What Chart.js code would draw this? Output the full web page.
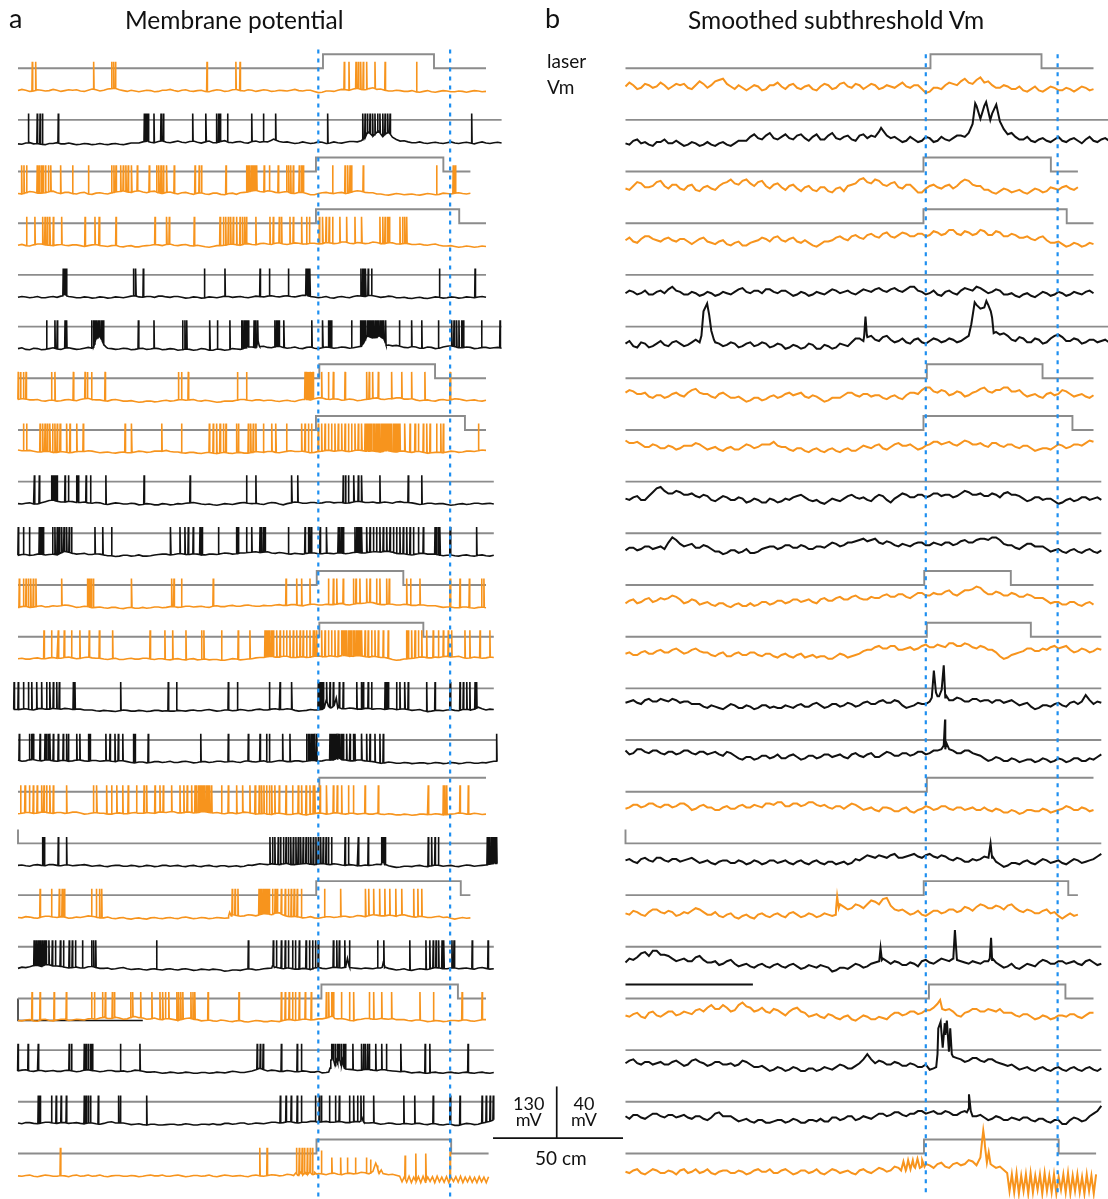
<!DOCTYPE html>
<html>
<head>
<meta charset="utf-8">
<script src="https://cdn.jsdelivr.net/npm/chart.js@4.4.1/dist/chart.umd.min.js"></script>
<style>
  html,body{margin:0;padding:0;background:#fff;}
  #wrap{position:relative;width:1108px;height:1199px;overflow:hidden;background:#fff;}
  canvas{position:absolute;left:0;top:0;}
  .t{position:absolute;font-family:Lato,"Open Sans",sans-serif;color:#111;line-height:1;white-space:nowrap;}
</style>
</head>
<body>
<div id="wrap">
<canvas id="c" width="1108" height="1199"></canvas>
<div class="t" style="left:9px;top:4px;font-size:27px">a</div>
<div class="t" style="left:125px;top:8px;font-size:24.5px">Membrane potential</div>
<div class="t" style="left:545px;top:4px;font-size:27px">b</div>
<div class="t" style="left:688px;top:8px;font-size:24.5px">Smoothed subthreshold Vm</div>
<div class="t" style="left:547px;top:51px;font-size:19px">laser</div>
<div class="t" style="left:547px;top:77px;font-size:19px">Vm</div>
<div class="t" style="left:513px;top:1095px;font-size:18px;line-height:16px;text-align:center">130<br>mV</div>
<div class="t" style="left:571px;top:1095px;font-size:18px;line-height:16px;text-align:center">40<br>mV</div>
<div class="t" style="left:535px;top:1148px;font-size:19px">50 cm</div>
</div>
<script>
// ---------------- DATA ----------------
// trace colour per recording row (top to bottom)
const traceColor = ['orange','black','orange','orange','black','black','orange','orange','black','black','orange',
                    'orange','black','black','orange','black','orange','black','orange','black','black','orange'];

// laser-on interval per row, in cm along the track (null = no laser; end null = stays on)
const laserOn = [[117.3,160.0],null,[114.6,163.6],[114.6,169.7],null,null,[115.9,160.4],[114.6,171.9],null,null,
                 [114.9,148.2],[115.9,155.9],null,null,[115.9,null],[0,0],[114.7,170.3],null,[116.7,169.2],null,null,[114.8,166.6]];

// laser zone markers (cm)
const laserZone = [115.5, 166.2];

// spike positions (cm) per row
const spikeTimes = [
 [5.5,6.8,29.1,36.0,36.8,37.5,72.7,83.8,85.4,125.5,127.3,130.0,130.9,131.8,132.8,134.1,137.3,141.2,153.3],
 [4.0,7.4,8.5,9.4,15.5,48.6,49.0,49.4,49.7,50.1,52.3,55.0,55.9,67.2,72.3,76.4,77.1,77.7,80.6,89.9,94.4,99.1,119.1,132.6,133.5,134.4,135.4,136.4,137.3,138.3,139.2,140.3,141.2,142.2,143.1,174.5],
 [1.4,2.3,3.3,7.4,8.2,9.0,9.7,10.6,11.7,12.6,16.4,21.0,27.1,36.0,36.9,37.7,39.5,40.5,41.5,42.4,43.7,45.9,50.5,53.3,54.2,55.0,55.9,57.2,60.1,68.1,69.7,70.6,80.0,87.9,88.6,89.2,89.9,90.5,91.2,91.8,94.7,96.7,100.1,103.3,104.1,104.9,105.9,108.2,109.1,109.7,121.0,125.8,126.8,127.7,128.3,132.8,161.0,167.4,168.2],
 [3.3,6.5,9.5,10.4,11.3,12.3,13.6,16.8,25.8,29.6,31.2,37.7,52.7,57.2,58.2,67.8,77.7,79.0,79.9,80.9,81.8,82.8,84.1,85.4,86.4,87.3,87.9,91.5,96.9,98.2,100.5,101.4,104.6,105.9,109.1,111.0,112.1,115.9,117.2,118.5,119.7,121.0,123.8,126.4,129.6,132.2,139.2,140.3,141.2,142.1,142.8,146.9,147.9,148.8,149.5],
 [17.4,17.8,18.2,18.6,44.4,45.3,48.2,71.7,79.6,93.1,96.7,104.0,110.8,111.3,111.8,112.3,131.9,132.6,133.1,133.7,134.7,136.0,162.1,175.8],
 [11.0,14.2,15.1,18.1,18.7,28.3,29.0,29.6,30.3,30.9,31.5,32.2,32.8,46.3,52.3,63.3,64.2,64.9,73.8,76.7,81.5,86.0,86.5,87.1,87.6,88.1,88.6,90.8,91.5,92.2,98.8,99.4,99.9,100.4,102.3,113.0,117.2,119.4,120.0,120.6,128.3,131.8,132.4,133.1,133.7,134.4,135.0,135.6,136.3,136.9,137.5,138.2,138.8,139.4,140.1,140.7,141.4,146.7,151.4,155.3,161.7,166.8,167.7,168.7,169.6,170.6,171.3,178.3,185.4],
 [0.1,1.0,2.1,3.1,12.9,14.2,21.3,25.8,26.7,28.3,33.5,61.7,62.9,65.5,84.4,87.9,110.4,110.9,111.4,111.9,112.4,112.9,113.5,116.8,119.4,121.3,125.8,134.1,135.1,136.4,138.6,143.7,147.6,151.4,156.5,166.2],
 [2.1,3.3,8.5,9.5,10.4,11.3,12.3,13.3,14.2,15.1,16.2,18.7,20.0,22.6,25.1,41.2,43.7,55.3,62.9,73.6,75.1,76.4,77.7,79.0,80.0,84.1,84.8,88.6,89.5,90.5,91.5,94.4,97.6,99.2,103.3,109.1,110.4,111.7,112.9,115.5,116.8,118.1,119.4,120.6,121.9,123.2,124.5,125.8,127.1,128.3,129.6,130.9,132.2,133.5,134.1,134.7,135.4,136.0,136.7,137.3,137.9,138.6,139.2,139.9,140.5,141.2,141.8,142.4,143.1,143.7,144.4,145.0,145.6,146.3,146.9,148.8,150.8,152.7,154.0,155.9,157.2,158.5,161.0,162.6,163.6,177.1],
 [6.3,8.2,12.9,13.5,14.0,14.5,15.0,18.1,19.4,22.6,23.2,26.2,27.9,33.8,48.5,66.2,87.9,91.5,105.3,107.6,125.1,126.0,127.1,129.2,130.9,132.2,139.2,150.1,155.3],
 [0.1,2.1,4.4,8.2,8.7,9.2,9.7,13.3,14.2,15.1,15.9,16.8,17.7,18.7,19.7,20.6,29.6,32.6,36.0,58.7,62.3,64.2,65.5,67.4,70.0,70.8,77.1,84.1,84.7,87.9,89.9,93.1,93.7,94.4,95.0,104.0,110.4,111.7,112.3,112.9,116.2,118.7,123.2,123.8,124.5,125.1,129.6,130.3,130.9,131.5,132.2,134.1,135.4,136.7,137.9,139.2,140.5,141.8,143.1,144.4,145.6,146.9,148.2,149.5,150.8,152.1,154.0,155.9,160.4,161.0,161.7,162.3,166.2,176.4],
 [0.5,2.1,3.1,4.0,4.9,5.9,6.9,16.8,26.7,27.4,28.2,29.0,43.7,59.1,60.0,62.9,75.1,103.1,107.2,109.1,112.3,119.4,121.3,122.6,125.1,129.0,130.0,131.5,134.1,135.4,137.9,139.2,141.8,142.8,149.5,151.0,154.6,166.2,170.0,173.6,178.3,179.2],
 [10.0,12.9,15.5,17.8,20.6,23.8,27.4,31.3,36.4,50.8,56.5,59.5,64.6,70.6,71.5,78.3,84.7,89.2,95.0,95.6,96.3,96.9,97.6,98.2,99.5,100.8,102.1,103.3,104.6,105.9,107.2,108.5,109.7,111.0,112.3,113.6,114.2,114.9,116.8,118.1,119.4,120.6,121.9,123.2,124.5,125.1,125.8,126.4,127.1,127.7,128.3,129.0,129.6,130.3,130.9,131.5,132.2,133.5,134.7,136.0,137.3,138.6,140.5,142.4,149.5,150.1,151.4,152.7,154.0,155.3,157.2,159.7,161.7,163.6,165.5,166.8,171.9,173.8,177.7,181.5],
 [-1.5,0.1,2.1,4.0,5.3,7.2,9.1,11.0,12.3,13.6,14.9,15.9,21.3,21.9,39.5,57.8,61.0,80.9,84.4,96.7,100.8,105.3,115.5,116.2,116.8,117.4,118.7,120.0,121.3,123.6,125.1,130.3,132.2,132.8,134.7,136.0,141.2,141.8,142.4,145.6,146.9,148.8,150.1,157.2,160.4,166.2,170.0,171.3,172.6,173.8,175.8,176.4],
 [0.5,4.4,5.3,5.9,8.5,10.4,11.0,11.7,12.3,13.6,15.5,17.4,18.7,19.4,22.6,23.8,27.1,27.7,33.8,35.4,37.3,38.6,40.3,44.4,45.0,50.1,70.3,80.9,88.6,93.1,95.6,96.7,101.8,104.6,111.0,111.7,112.3,112.9,113.6,114.2,114.9,120.0,120.6,121.3,121.9,122.6,123.2,123.8,124.5,125.1,126.4,127.7,129.0,129.6,132.2,134.1,135.4,137.3,139.2,140.5,184.1],
 [1.0,2.7,4.4,5.9,7.4,9.1,10.0,11.0,12.3,13.6,18.7,29.0,30.3,34.1,36.0,38.0,40.3,42.4,45.6,48.5,49.5,52.7,54.6,55.9,59.1,62.3,63.8,65.1,66.8,68.1,68.7,69.4,70.0,70.6,71.3,71.9,72.6,73.2,73.8,74.5,78.3,80.9,84.1,86.4,89.2,91.2,92.8,93.7,94.6,95.6,96.7,97.6,98.8,100.5,103.1,105.6,107.8,109.1,110.8,112.3,113.6,114.2,116.2,118.7,121.3,122.8,124.5,127.1,129.0,133.5,138.6,157.8,163.6,164.2,164.9,170.0,173.2],
 [9.5,10.1,15.5,18.7,96.9,97.9,98.8,100.1,101.0,102.1,103.1,104.0,104.9,105.9,106.9,107.8,108.7,109.7,110.8,111.7,112.6,113.6,114.6,115.5,116.4,117.4,118.5,119.4,120.6,125.8,127.1,130.9,134.7,139.9,140.5,141.2,157.8,159.1,160.4,161.7,180.5,181.0,181.5,182.1,182.6,183.1,183.6,184.1],
 [8.5,12.9,15.9,17.0,17.8,28.3,30.2,31.4,32.2,82.4,83.5,84.6,92.7,93.5,94.3,95.1,95.8,96.6,97.9,98.9,99.7,101.3,102.8,104.0,105.1,106.2,107.4,109.0,117.9,124.1,133.7,134.9,136.8,139.1,141.1,143.0,145.3,147.6,152.2,153.8,155.3],
 [6.2,7.0,7.8,8.5,9.3,10.1,10.8,11.9,13.2,14.4,16.3,17.5,19.7,20.9,22.1,24.8,28.3,29.1,29.9,53.3,88.6,98.2,99.4,101.3,102.8,104.0,105.6,106.7,108.2,110.8,112.1,113.3,114.4,115.5,121.3,122.6,123.6,125.7,127.5,138.3,140.7,150.7,156.9,158.4,159.7,160.8,161.8,163.1,163.8,166.9,167.7,174.7,180.8],
 [5.4,8.5,13.9,18.6,28.3,29.4,32.5,33.6,36.3,37.1,43.3,44.1,47.2,51.5,54.6,55.7,56.7,58.0,61.1,61.8,62.6,63.4,66.5,67.3,68.0,73.1,85.0,101.3,102.8,104.3,105.6,106.7,108.2,110.5,112.8,118.6,119.5,120.6,121.3,124.4,127.5,129.1,135.2,136.8,139.9,143.7,154.6,159.8,170.8,178.5],
 [0.0,3.9,7.8,19.7,20.6,25.5,26.3,27.1,27.9,28.6,39.4,46.9,92.0,93.2,94.3,101.3,107.4,109.0,120.6,121.3,122.1,122.9,123.6,124.4,125.2,125.9,128.8,132.2,132.9,133.7,134.5,135.2,137.6,139.9,141.7,147.3,156.6,158.4,173.1],
 [7.8,8.5,12.9,14.7,16.6,18.6,25.5,26.3,27.1,27.9,30.9,38.7,39.4,49.5,100.9,103.1,105.1,107.4,109.0,114.4,115.9,116.7,119.8,122.1,123.6,127.5,129.1,130.6,131.9,132.9,136.8,148.4,152.6,159.7,166.2,170.0,178.5,180.1,181.6,182.8],
 [16.3,93.0,95.8,107.1,108.2,109.3,110.2,111.3,112.4,113.3,116.7,120.7,124.1,126.7,129.8,134.0,135.6,138.3,148.9,153.0,156.9,166.2]
];
// spike peak heights (mV above rest) where they differ from the full-size spikes; null = all full size
const spikePeaks = [null,null,null,null,null,null,null,null,null,null,null,null,null,null,null,null,null,null,null,null,null,
 [70,70,70,70,70,70,70,70,70,70,63,45,45,45,45,45,40,25,50,55,55,60]];

// subthreshold Vm (mV, relative to each row's resting level), sampled every 3 cm from 0 cm
const vmSamples = [
 [-1,0,-2,0,-1,0,-1,0,-2,0, 1,0,4,1,-3,-2,-2,-1,-3,0, -1,0,-2,-1,-3,-1,0,-2,2,-2, 0,-1,0,-2,-1,0,-1,0,-3,-5, -2,0,1,3,2,4,2,0,-2,-1, -3,-4,-3,-4,-3,-2,-4,-3,-3,-2, -3],
 [-5,-3,-5,-6,-4,-2,-5,-5,-6,-5, -6,-6,-5,-6,-5,-3,0,-1,1,-1, 0,-1,1,-1,0,-2,1,-1,0,-2, 1,-1,0,5,-1,-2,-3,-2,-3,-1, -3,-2,-1,1,3,24,24,18,12,2, 0,-2,-3,-2,-3,-2,-3,-2,-3,-2, -3,-2,-3],
 [0,2,4,1,5,2,3,0,2,-1, 1,0,2,5,4,6,4,5,2,3, 1,2,0,1,-1,1,-2,0,-2,3, 7,5,7,3,4,1,3,0,-3,2, 1,2,0,5,6,2,-1,-3,-2,-1, -2,-3,-2,-1,-2,0,1,0,1],
 [0,-1,1,3,0,1,0,1,-1,-1, 2,-2,-1,-3,-2,-4,-2,0,1,2, 0,1,-1,0,-4,-3,-1,2,1,3, 2,4,3,5,3,4,5,3,5,4, 6,5,8,4,6,5,7,4,6,3, 4,2,1,2,0,-2,-3,-4,-3,-4, -3],
 [-1,0,-1,-2,0,-1,4,0,-2,-1, -2,-1,-2,-1,0,3,-1,1,2,0, 1,-1,-2,-1,-2,-1,0,1,0,-1, 0,1,2,1,2,1,2,4,0,-1, -2,0,-1,1,2,4,1,0,1,-2, -3,-2,-3,-2,-1,-2,-1,-2,-1,0, -1],
 [0,-2,1,-3,0,-1,1,0,-1,3, 25,10,0,-1,0,-2,1,-1,0,-2, -1,-3,-2,-3,-1,-4,-2,-3,-1,1, 4,5,3,5,3,2,1,3,1,2, 3,2,3,2,6,30,28,20,7,6, 2,4,1,3,1,6,5,2,3,1, 3,2,1],
 [2,3,1,-1,0,-2,1,0,2,5, 1,-1,1,0,-2,-3,-4,-2,-3,0, -1,2,1,-1,0,-3,-4,-2,0,2, -1,1,0,-2,-1,-2,0,2,4,6, 2,3,1,2,0,3,6,2,4,6, 3,1,0,-1,1,0,4,1,0,-1, 0],
 [5,3,2,0,1,-1,0,-1,1,3, 0,-1,-2,-1,-2,0,1,0,2,4, 0,-2,-1,-3,-2,-3,-2,-3,-2,-3, -1,0,1,-1,0,3,1,0,-1,2, 4,3,2,3,4,2,1,3,1,2, 0,1,-1,-2,-1,0,1,0,2,3, 4],
 [0,1,-1,2,8,6,4,5,3,2, 3,-1,0,1,-1,0,-2,-1,-3,-1, -2,-1,2,1,-2,-3,-2,-1,0,3, 0,-1,1,2,-3,2,3,1,3,2, 4,3,1,4,5,3,2,4,1,5, 3,0,-1,1,0,-2,-3,0,-1,1, 0,-1],
 [0,2,1,3,2,1,10,5,4,2, 4,1,-1,-2,0,-1,-2,-1,2,3, 2,4,2,3,1,3,4,5,4,6, 8,7,9,5,6,3,4,5,6,4, 5,6,4,7,6,8,9,10,8,4, 2,3,5,3,1,0,-1,0,-1,0, -1,0],
 [-1,2,0,3,1,2,5,2,0,1, -1,-2,-1,-3,-2,-3,-1,-2,0,-1, 1,0,2,1,0,2,1,3,2,4, 3,2,3,5,4,6,4,5,7,5, 6,8,6,7,9,12,8,6,7,5, 6,4,5,3,1,0,-2,0,-2,-1, -2],
 [0,-1,1,0,2,1,3,2,1,4, 1,-1,0,-2,0,-1,1,-1,0,-2, -1,-2,-1,-3,-1,-2,-4,-2,-1,-2, 0,3,5,4,6,3,4,3,6,5, 7,5,8,6,7,4,5,3,-2,-3, 0,2,4,2,3,6,5,3,2,3, 2,3],
 [2,4,1,5,3,4,5,2,3,1, -1,0,-2,-1,0,-2,-1,-2,0,-1, -2,-1,0,-1,1,0,-1,1,0,1, 0,3,1,4,2,3,-2,0,1,3, 7,6,4,5,3,5,4,2,4,3, 2,1,-1,-2,0,1,0,2,1,8, 1,2],
 [5,3,6,3,5,2,4,3,5,2, 4,3,2,4,1,-2,0,-1,1,0, -1,1,0,-1,1,0,2,1,0,2, 1,2,0,2,3,1,3,2,4,3, 5,6,5,3,5,2,-1,-2,-1,-3, -2,-3,-2,-3,-2,-3,-2,-3,-1,-3, -2,2],
 [0,3,1,4,2,3,1,4,2,0, 3,1,-1,2,0,3,1,2,4,3, 5,2,4,3,5,2,1,2,0,4, 1,0,-1,1,0,-2,1,-3,0,1, 0,2,-1,1,0,-1,1,-2,-1,-3, -2,-3,-1,-2,-1,-2,0,1,-1,0, -1],
 [0,-1,1,0,2,0,1,-1,1,0, -1,-2,-1,0,-2,-1,-2,-1,-2,0, -1,-2,-1,-2,-1,-2,-1,-3,-1,-2, 0,4,2,3,4,2,3,5,2,5, 2,3,0,1,-1,0,3,2,-3,-4, -2,-1,-2,-1,0,-1,-2,-1,0,-1, 1,5],
 [-1,1,-2,0,2,-1,0,-2,-1,3, 0,-2,-3,-2,-4,-3,-4,-2,-3,-2, -3,-1,-2,-3,-2,-3,-2,3,4,3, 5,6,8,10,5,1,0,-1,-2,-1, 1,0,2,1,3,4,5,3,4,5, 3,0,1,-1,2,0,-5,-1,-2],
 [1,3,8,6,10,7,4,3,2,5, 3,1,-1,2,0,-1,-2,-1,-2,-1, -2,-1,-2,-3,-2,-1,-3,-5,-3,-2, -1,-2,1,4,0,1,-1,0,2,1, 2,3,4,2,0,1,2,3,-1,-2, -3,-2,-1,1,2,0,2,1,0,2, 1,0],
 [0,1,-1,2,0,1,3,1,2,4, 3,8,5,6,4,10,6,4,3,5, 2,3,6,2,0,-1,1,-2,-1,-3, -2,-1,-3,-2,0,2,1,3,2,4, 9,4,3,-1,3,5,3,4,5,2, 0,1,-1,-2,-1,-2,0,1,-1,0, 2],
 [3,6,2,4,3,2,4,3,2,6, 3,2,4,2,1,5,2,0,-1,-2, -1,-2,-1,-3,-1,-2,-1,0,1,-1, 3,10,3,4,2,3,1,2,0,-2, 10,25,8,6,5,7,4,6,3,1, 0,-1,-2,-1,-2,-1,-2,-1,-2,-1, -2,-1],
 [2,3,1,2,4,1,3,2,1,2, 0,1,5,2,0,-1,-2,-1,-3,-2, -1,-2,-1,-3,-1,0,-2,1,0,2, 0,1,2,4,3,5,2,4,6,5, 4,6,3,5,8,2,1,0,1,-1, 0,1,-1,0,-2,-1,-4,-1,0,-1, 4,10],
 [-1,0,-2,-1,0,-2,-1,0,-2,1, -1,-2,-1,0,-2,-1,-2,1,-1,-2, 0,-1,-2,0,-1,-2,-1,0,-1,-2, 0,-1,0,1,0,2,1,3,3,4, 5,3,5,4,8,4,25,4,3]
];
const sampleStepCm = 3;

// Vm read half-way between those samples (1.5 cm, 4.5 cm, ...); null where a peak point below is used instead
const vmMid = [
 [2,-3,1,-2,2,-3,1,1,-3,3, -2,3,5,-1,0,-4,0,-4,0,2, -3,1,-3,0,-4,1,-3,1,-1,1, -3,1,-3,0,-2,2,-2,0,-6,-2, -3,2,0,5,1,6,3,-2,0,-3, -1,-5,-1,-5,-1,-4,-2,-5,-1,-4],
 [-6,-2,-4,-7,-4,-5,-3,-7,-4,-7, -4,-7,-4,-7,-3,-3,2,-2,3,-2, 2,-2,2,-3,2,-2,3,-2,1,-3, 2,1,4,1,0,-4,0,-4,0,-4, 0,-3,1,0,null,null,20,null,6,3, -2,0,-4,-1,-4,0,-4,-1,-5,0, -4,-1],
 [-1,5,1,2,6,0,3,-1,3,-2, 2,-1,4,7,3,7,2,6,0,4, -1,3,-2,2,-2,1,-3,1,2,4, 8,4,6,2,5,0,3,-3,0,3, 0,3,2,7,3,2,-1,-4,0,-3, -1,-4,0,-3,1,-1,2,-1],
 [2,-2,3,1,-1,2,-1,1,-3,1, -1,-3,0,-4,-1,-4,-1,2,-1,3, -1,2,-2,-2,-5,-1,0,3,0,4, 1,5,2,6,2,6,3,5,3,7, 4,8,5,7,4,8,4,7,3,5, 2,3,0,3,-2,-1,-5,-2,-5,-2],
 [1,-2,1,-2,1,2,1,-2,0,-3, 0,-3,0,-2,2,0,1,-1,2,-1, 1,-3,0,-3,0,-2,2,-1,1,-2, 2,0,3,0,3,0,4,1,-2,1, -3,1,-2,3,1,3,-1,2,-2,-1, -4,-1,-4,0,-3,0,-3,0,-2,1],
 [2,-3,0,-2,2,-2,2,-2,1,1, null,1,-2,1,-3,0,-2,1,-3,0, -4,-1,-4,0,-4,-1,-4,0,-2,4, 2,6,2,6,1,4,0,4,0,4, 1,4,1,4,null,null,30,9,8,3, 5,1,4,0,4,7,2,4,0,3, 1,3],
 [4,1,2,-2,0,-1,2,-1,4,2, 1,-2,2,-2,-1,-5,-2,-4,-1,-2, 1,0,2,-2,-1,-5,-2,-2,2,0, 1,-1,0,-3,0,-3,2,1,6,3, 4,0,3,-1,2,5,3,4,6,3, 4,-1,1,-2,2,1,3,-1,1,-2],
 [3,4,0,2,-1,1,-2,1,1,2, -2,0,-3,0,-2,2,-1,2,2,1, 0,-3,-1,-4,-1,-4,-1,-4,-1,-3, 1,-1,2,-2,2,1,2,-2,1,4, 2,4,1,5,2,3,0,3,0,2, -1,1,-3,-1,-2,2,-1,2,1,5],
 [-1,2,-1,5,9,4,6,3,4,1, 2,-2,2,-1,1,-3,0,-3,0,-3, 0,1,3,-1,-1,-4,0,-2,2,1, 1,-2,3,-1,0,4,1,3,1,4, 2,3,2,6,3,4,2,3,4,3, 2,-2,1,-1,0,-4,-1,-2,1,-1, 1],
 [2,0,3,1,3,6,8,3,5,2, 3,-1,-3,0,-2,1,-2,1,3,1, 4,2,4,1,3,2,6,3,6,7, 9,8,6,7,4,5,3,6,4,6, 4,6,5,8,6,9,8,10,5,4, 1,5,3,3,-1,1,-2,1,-2,1, -2],
 [1,-1,2,0,3,3,4,-1,2,-2, 0,-3,-1,-4,-1,-3,-3,0,-2,1, -1,2,0,2,-1,3,1,4,2,5, 2,4,3,6,4,6,3,7,5,7, 6,9,5,9,10,11,6,8,5,7, 4,6,3,3,-1,0,-2,0,-3,0],
 [1,-1,2,0,3,1,4,0,3,2, 1,-2,1,-2,1,-1,1,-2,0,-3, 0,-3,0,-2,-3,-2,-4,0,-3,-1, 2,3,6,4,6,3,5,4,7,5, 6,8,6,8,5,6,3,1,-4,-1, 1,4,2,4,5,4,6,1,4,1, 4],
 [3,2,4,3,5,3,4,3,1,1, -2,-1,-3,1,-2,0,-3,0,-2,-2, 0,-2,1,-1,2,-2,1,-1,2,-1, 2,1,3,2,4,0,-1,2,1,null, null,4,6,3,5,3,4,4,2,4, 0,2,-3,0,-1,2,-1,3,3,4, 3],
 [2,6,4,5,3,4,2,5,3,4, 2,4,1,3,-1,0,-2,1,-1,2, -1,2,-2,1,-1,2,0,2,-1,3, 0,3,0,4,1,3,1,4,2,5, 6,6,3,5,3,1,-3,0,-3,-1, -4,-2,-4,-1,-4,-1,-4,-1,-3,-1, 0],
 [1,3,2,4,1,3,2,4,-1,2, 1,-1,1,0,2,1,3,1,4,5, 2,4,2,5,3,3,0,2,2,3, -1,1,-2,1,-2,0,-2,-1,2,-1, 2,0,1,-1,1,-1,-1,0,-3,-1, -4,-1,-2,0,-3,-1,2,-1,1,-2],
 [1,-2,2,-1,2,-1,1,0,2,-2, 0,-3,0,-2,0,-3,0,-3,0,-2, 0,-3,0,-3,0,-3,-1,-2,-3,1, 2,3,4,2,5,2,4,3,4,3, 4,1,2,-1,1,1,null,-1,-5,-2, -3,0,-3,1,-2,0,-3,1,-2,0, 3],
 [-2,0,-3,2,0,1,-3,0,1,2, -2,0,-4,-1,-5,-2,-5,-1,-4,-1, -4,0,-4,-1,-4,-1,-3,6,2,6, 3,9,6,11,2,2,-2,1,-3,1, -1,2,0,4,1,6,3,5,2,6, 1,2,-1,1,-1,-3,-3,-3],
 [4,5,9,10,7,6,2,4,2,6, 1,2,0,3,-2,0,-3,0,-3,0, -3,0,-4,-1,-3,-2,-6,-3,-4,0, -3,0,null,2,2,-1,1,-2,3,0, 4,2,3,1,2,0,2,1,-3,0, -4,0,-2,3,0,2,0,2,-1,3, -1],
 [-1,2,-2,3,-1,3,0,3,1,5, 6,5,8,3,8,7,3,6,2,4, 0,5,3,-1,1,-2,0,-3,0,-4, 0,-3,-1,-3,2,0,3,1,4,6, null,5,0,2,5,3,5,3,2,2, -1,1,-3,0,-3,0,-1,1,-2,2],
 [5,3,4,2,4,2,5,1,5,4, 1,4,2,3,2,4,0,1,-3,0, -3,0,-3,-1,-3,0,-2,2,-1,1, 6,6,5,2,4,1,3,0,2,-1, null,null,7,4,7,5,6,4,2,2, -2,0,-3,0,-3,0,-3,0,-3,0, -3],
 [0,3,0,4,2,3,1,3,0,2, -1,4,2,2,-2,0,-3,-1,-3,-1, -3,0,-3,-1,-2,-2,1,-1,2,-1, 2,0,4,2,5,3,4,6,4,6, 4,5,3,6,2,3,-1,2,-1,1, -1,1,-2,0,-3,-1,-4,1,-2,2, 6],
 [-2,1,-3,1,-2,0,-3,1,-1,-2, 1,-3,0,-2,0,-3,0,-1,1,-2, 1,-3,0,-2,1,-3,1,-2,0,-3, 1,-2,2,-1,3,null,null,null,5,2, 6,2,6,5,7,10,null,2]
];

// extra Vm points read at peaks, plateaus and oscillations: [cm, mV]
const vmPeaks = [
 [],
 [[98.3,7],[133.5,10],[134.5,26],[136.5,14],[138.7,27],[140.3,13],[142.6,25]],
 [], [], [],
 [[29.2,6],[31.4,31],[32.2,22],[34,3],[91.8,6],[92.3,21],[92.8,7],[133,15],[134.3,32],[136.5,27],[138.8,33],[140.5,25],[141.6,8]],
 [], [], [], [], [], [],
 [[117.8,6],[118.6,27],[119.4,10],[120.6,7],[121.6,12],[122.4,31],[123.2,8]],
 [[122.4,9],[122.9,29],[123.4,11]],
 [],
 [[139.6,2],[140.4,13],[141.2,3]],
 [[80.9,-2],[81.4,12],[82,3]],
 [[97.6,2],[98.1,12],[98.6,3],[126.1,5],[126.7,26],[127.4,5],[140.1,4],[140.6,20],[141.2,4]],
 [[121,12],[121.8,5]],
 [[119.5,0],[120.3,30],[121.2,35],[122,15],[122.8,34],[123.6,36],[124.4,12],[124.9,30],[125.5,10]],
 [[131.3,5],[132.1,19],[132.8,6]],
 [[106,0],[106.9,7],[107.8,0],[108.7,8],[109.6,1],[110.5,8],[111.4,2],[112.3,9],[113.2,2],[114.1,8],[115,3],
  [137,20],[137.6,31],[138.3,18],[139,6],[139.7,14],[140.4,5],
  [146.8,-2],[147.7,-16],[148.6,-3],[149.5,-17],[150.4,-2],[151.3,-18],[152.2,-4],[153.1,-16],[154,-3],[154.9,-18],
  [155.8,-2],[156.7,-17],[157.6,-4],[158.5,-15],[159.4,-3],[160.3,-18],[161.2,-2],[162.1,-16],[163,-4],[163.9,-17],
  [164.8,-3],[165.7,-18],[166.6,-5],[167.5,-15],[168.4,-3],[169.3,-17],[170.2,-2],[171.1,-18],[172,-4],[172.9,-16],
  [173.8,-3],[174.7,-17],[175.6,-5],[176.5,-18],[177.4,-3],[178.3,-16],[179.2,-4],[180.1,-18],[181,-3]]
];

// stray black recording segments visible in the figure: [row, fromCm, toCm]
const strayA = [[18, 0, 48]];
const strayB = [[18, 0, 49]];

// ---------------- LAYOUT / STYLE ----------------
const ROW_MV_A = 130, ROW_MV_B = 40;         // row spacing equals scale bar
const PX_PER_ROW = 51.68;
const PXMV_A = PX_PER_ROW / ROW_MV_A, PXMV_B = PX_PER_ROW / ROW_MV_B;
const PX_PER_CM = 2.6;
const W = 1108, H = 1199;
const ZERO_A_PX = 90.2, ZERO_B_PX = 85.2;     // row 0 resting level
const X0_A_PX = 18, X0_B_PX = 625.5;
const LASER_LOW_A = 22 / PXMV_A, LASER_STEP_A = 14 / PXMV_A;
const LASER_LOW_B = 17 / PXMV_B, LASER_STEP_B = 14 / PXMV_B;
const SPIKE_PEAK_A = 28.4 / PXMV_A;
const HALF = 0.15;
const COL = {orange:'#F7941D', black:'#111111', gray:'#8C8C8C', blue:'#1E8FF0'};

function vmSeries(i){
  const pts = vmSamples[i].map((v,k)=>({x:k*sampleStepCm, y:v}));
  vmMid[i].forEach((v,k)=>{ if (v !== null) pts.push({x:k*sampleStepCm + sampleStepCm/2, y:v}); });
  vmPeaks[i].forEach(p=>pts.push({x:p[0], y:p[1]}));
  pts.sort((a,b)=>a.x-b.x);
  return pts;
}
function vmAt(pts, t){
  if (t <= pts[0].x) return pts[0].y;
  for (let j=1;j<pts.length;j++){
    if (pts[j].x >= t){
      const a=pts[j-1], b=pts[j];
      const f = b.x===a.x ? 0 : (t-a.x)/(b.x-a.x);
      return a.y + f*(b.y-a.y);
    }
  }
  return pts[pts.length-1].y;
}
function spikingSeries(i){
  const vm = vmSeries(i);
  const sp = spikeTimes[i];
  const pk = spikePeaks[i];
  const pts = vm.filter(p => !sp.some(t => Math.abs(p.x - t) < HALF));
  sp.forEach((t,j)=>{
    const peak = pk ? pk[j] : SPIKE_PEAK_A;
    pts.push({x:t-HALF, y:vmAt(vm,t-HALF)}, {x:t, y:peak}, {x:t+HALF, y:vmAt(vm,t+HALF)});
  });
  pts.sort((a,b)=>a.x-b.x);
  return pts;
}
function laserSeries(i, x0, x1, low, step){
  const high = low + step;
  const pts = [{x:x0, y:low}];
  const on = laserOn[i];
  let endHigh = false;
  if (on){
    pts.push({x:on[0], y:low}, {x:on[0], y:high});
    if (on[1] === null){ pts.push({x:x1, y:high}); endHigh = true; }
    else pts.push({x:on[1], y:high}, {x:on[1], y:low});
  }
  if (!endHigh) pts.push({x:x1, y:low});
  return pts;
}
const shift = (pts, dy) => pts.map(p=>({x:p.x, y:p.y+dy}));

const datasets = [];
function add(data, xid, yid, color, width, order, dash){
  datasets.push({data, xAxisID:xid, yAxisID:yid, borderColor:color, borderWidth:width,
    pointRadius:0, fill:false, tension:0, order, borderDash:dash||[], borderJoinStyle:'miter', borderCapStyle:'butt'});
}

for (let i=0;i<traceColor.length;i++){
  const col = COL[traceColor[i]];
  const a = spikingSeries(i);
  const b = vmSeries(i);
  const ax0 = Math.min(0, a[0].x), ax1 = a[a.length-1].x;
  const bx1 = b[b.length-1].x;
  add(shift(a, -ROW_MV_A*i), 'xa','ya', col, 1.6, 2);
  add(shift(laserSeries(i, ax0, ax1, LASER_LOW_A, LASER_STEP_A), -ROW_MV_A*i), 'xa','ya', COL.gray, 1.9, 3);
  add(shift(b, -ROW_MV_B*i), 'xb','yb', col, 2.0, 2);
  add(shift(laserSeries(i, 0, bx1, LASER_LOW_B, LASER_STEP_B), -ROW_MV_B*i), 'xb','yb', COL.gray, 1.9, 3);
}
// stray segments
strayA.forEach(([r,x0,x1])=>add([{x:x0,y:LASER_LOW_A-ROW_MV_A*r},{x:x0,y:-ROW_MV_A*r},{x:x1,y:-ROW_MV_A*r}],'xa','ya',COL.black,1.4,4));
strayB.forEach(([r,x0,x1])=>add([{x:x0,y:LASER_LOW_B+LASER_STEP_B-ROW_MV_B*r},{x:x1,y:LASER_LOW_B+LASER_STEP_B-ROW_MV_B*r}],'xb','yb',COL.black,1.9,4));

// laser zone dashed markers spanning all rows
const nRows = traceColor.length;
laserZone.forEach(x=>{
  add([{x, y:LASER_LOW_A+LASER_STEP_A+12},{x, y:-ROW_MV_A*(nRows-1)-55}],'xa','ya',COL.blue,2.2,1,[4,5]);
  add([{x, y:LASER_LOW_B+LASER_STEP_B},{x, y:-ROW_MV_B*(nRows-1)-17}],'xb','yb',COL.blue,2.2,1,[4,5]);
});

// scale bars: 50 cm horizontal, 130 mV (a) / 40 mV (b) vertical
const barX0 = 182.7, barLen = 50, barY = -ROW_MV_A*20 - 36;
add([{x:barX0,y:barY},{x:barX0+barLen,y:barY}],'xa','ya','#111',1.7,1);
add([{x:barX0+barLen*0.49,y:barY},{x:barX0+barLen*0.49,y:barY+ROW_MV_A}],'xa','ya','#111',1.7,1);

const yaMax = ZERO_A_PX / PXMV_A, ybMax = ZERO_B_PX / PXMV_B;
const xaMin = -X0_A_PX / PX_PER_CM, xbMin = -X0_B_PX / PX_PER_CM;

new Chart(document.getElementById('c'), {
  type:'line',
  data:{datasets},
  options:{
    responsive:false, animation:false, devicePixelRatio:1,
    layout:{padding:0},
    parsing:false, normalized:true,
    plugins:{legend:{display:false}, tooltip:{enabled:false}, title:{display:false}},
    scales:{
      xa:{type:'linear', display:false, min:xaMin, max:xaMin + W/PX_PER_CM},
      xb:{type:'linear', display:false, min:xbMin, max:xbMin + W/PX_PER_CM},
      ya:{type:'linear', display:false, max:yaMax, min:yaMax - H/PXMV_A},
      yb:{type:'linear', display:false, max:ybMax, min:ybMax - H/PXMV_B}
    }
  }
});
</script>
</body>
</html>
